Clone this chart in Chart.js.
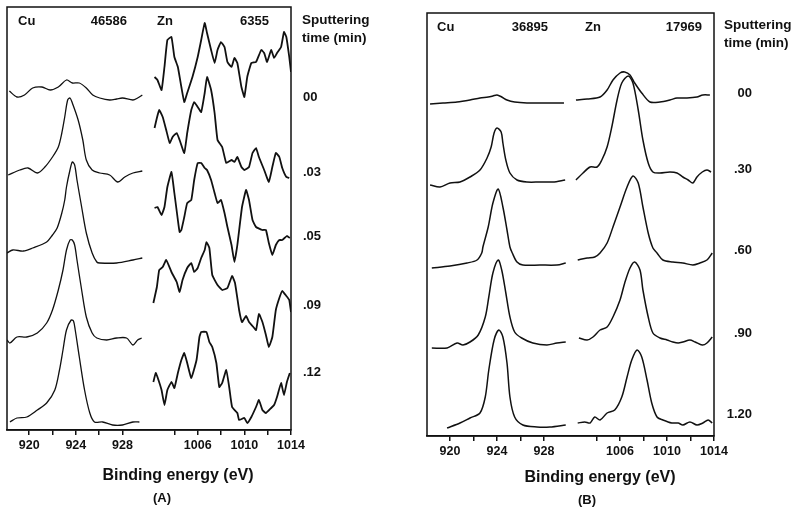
<!DOCTYPE html>
<html>
<head>
<meta charset="utf-8">
<script src="https://cdn.jsdelivr.net/npm/chart.js@4.4.0/dist/chart.umd.min.js"></script>
<style>
  html, body { margin: 0; padding: 0; background: #fff; }
  #wrap { position: relative; width: 793px; height: 508px; }
  .panel { position: absolute; top: 0; width: 396px; height: 508px; }
</style>
</head>
<body>
<div id="wrap">
  <div class="panel" style="left:0"><canvas id="chartA"></canvas></div>
  <div class="panel" style="left:397px"><canvas id="chartB"></canvas></div>
</div>
<script>
// binding energy ticks (eV), shared by both panels
const tickEnergies = [920, 922, 924, 926, 928, 1004, 1006, 1008, 1010, 1012, 1014]
const tickLabels = ['920', '', '924', '', '928', '', '1006', '', '1010', '', '1014']

// sputtering times and the level (a.u.) of each trace's baseline
const timesA = ['00', '.03', '.05', '.09', '.12']
const timeLevelsA = [333, 258, 194, 125, 58]
const timesB = ['00', '.30', '.60', '.90', '1.20']
const timeLevelsB = [343, 267, 186, 103, 22]

// full-scale counts written in each panel
const countsA = ['46586', '6355']
const countsB = ['36895', '17969']

// ---- panel A, Cu 2p3/2 : [energy eV, offset intensity a.u.]
const cuA00 = [[918.3,339],[918.95,333],[919.6,335],[920.3,342],[921.1,343],[921.8,340],[922.5,343],[923.2,350],[923.7,347],[924.3,347],[924.9,342],[925.45,335],[926.05,332],[926.9,330],[927.5,331],[928.0,332],[928.9,330],[929.3,332],[929.7,335]]
const cuA03 = [[918.2,255],[919.2,260],[919.9,262],[920.7,257],[921.35,263],[922.0,273],[922.5,283],[922.8,297],[923.05,313],[923.3,330],[923.5,332],[923.7,327],[924.2,310],[924.6,290],[924.9,270],[925.4,260],[926.05,257],[926.9,255],[927.6,248],[928.2,253],[928.9,257],[929.7,259]]
const cuA05 = [[918.1,177],[918.6,180],[919.5,179],[920.3,182],[921.5,188],[922.0,195],[922.4,202],[922.8,217],[923.05,230],[923.2,243],[923.5,260],[923.7,268],[923.9,265],[924.1,250],[924.5,223],[924.9,197],[925.4,177],[925.8,168],[926.05,167],[927.5,167],[928.9,170],[929.7,172]]
const cuA09 = [[918.1,90],[918.35,87],[918.95,93],[919.8,93],[920.7,97],[921.5,107],[922.0,120],[922.5,140],[922.9,160],[923.2,180],[923.5,190],[923.7,190],[923.9,185],[924.1,170],[924.5,140],[924.9,113],[925.4,97],[925.8,92],[926.65,90],[927.5,92],[928.35,92],[928.9,85],[929.3,90],[929.65,92]]
const cuA12 = [[918.35,8],[918.95,12],[919.8,13],[920.7,20],[921.5,27],[922.2,40],[922.6,60],[922.9,80],[923.2,100],[923.6,110],[923.8,109],[923.95,100],[924.3,73],[924.75,40],[925.2,17],[925.6,8],[926.3,8],[927.15,5],[928.0,5],[928.9,8],[929.45,8]]

// ---- panel A, Zn 2p3/2
const znA00 = [[1002.3,353],[1002.55,350],[1002.9,340],[1003.15,363],[1003.4,390],[1003.75,393],[1004.0,373],[1004.3,363],[1004.6,343],[1004.85,328],[1005.1,337],[1005.55,353],[1006.0,373],[1006.3,390],[1006.6,407],[1006.8,397],[1007.15,380],[1007.45,367],[1007.7,380],[1008.0,388],[1008.3,383],[1008.55,368],[1008.9,363],[1009.15,372],[1009.4,367],[1009.75,343],[1010.0,333],[1010.25,353],[1010.6,367],[1011.0,368],[1011.45,380],[1011.7,377],[1011.95,368],[1012.3,380],[1012.55,372],[1012.8,377],[1013.15,383],[1013.4,398],[1013.6,393],[1013.85,373],[1014.0,358]]
const znA03 = [[1002.3,302],[1002.5,312],[1002.7,320],[1003.0,313],[1003.3,300],[1003.6,287],[1003.85,293],[1004.2,297],[1004.45,290],[1004.85,277],[1005.1,297],[1005.45,320],[1005.7,328],[1006.0,323],[1006.3,318],[1006.6,337],[1006.8,353],[1007.15,340],[1007.45,317],[1007.7,290],[1008.1,283],[1008.45,267],[1008.9,270],[1009.15,268],[1009.4,273],[1009.75,263],[1010.0,260],[1010.4,263],[1010.7,277],[1011.0,282],[1011.25,273],[1011.7,260],[1012.1,248],[1012.4,263],[1012.7,277],[1013.0,273],[1013.25,262],[1013.6,253],[1013.85,252]]
const znA05 = [[1002.3,222],[1002.55,223],[1002.9,215],[1003.15,223],[1003.4,243],[1003.75,258],[1004.0,237],[1004.3,210],[1004.45,198],[1004.6,200],[1004.85,213],[1005.1,227],[1005.45,230],[1005.7,250],[1006.0,267],[1006.3,267],[1006.6,262],[1006.8,260],[1007.15,250],[1007.45,237],[1007.7,227],[1008.0,230],[1008.3,217],[1008.55,203],[1008.9,185],[1009.15,168],[1009.4,185],[1009.8,223],[1010.15,240],[1010.4,230],[1010.7,210],[1011.0,203],[1011.55,200],[1011.85,200],[1012.1,187],[1012.4,175],[1012.7,185],[1013.0,190],[1013.25,190],[1013.65,194],[1013.9,192]]
const znA09 = [[1002.2,127],[1002.5,143],[1002.7,160],[1003.0,163],[1003.3,170],[1003.75,158],[1004.2,148],[1004.45,138],[1004.7,150],[1005.1,162],[1005.45,167],[1005.7,158],[1006.0,162],[1006.3,172],[1006.6,180],[1006.75,188],[1007.0,182],[1007.25,155],[1007.7,145],[1008.1,140],[1008.55,142],[1008.95,154],[1009.2,147],[1009.55,120],[1009.8,108],[1010.15,114],[1010.4,108],[1010.7,104],[1011.0,100],[1011.25,116],[1011.55,108],[1011.85,95],[1012.1,83],[1012.4,93],[1012.7,120],[1013.0,132],[1013.25,139],[1013.6,134],[1013.85,130],[1014.0,118]]
const znA12 = [[1002.2,48],[1002.4,57],[1002.55,53],[1002.9,40],[1003.15,25],[1003.4,40],[1003.75,48],[1004.0,42],[1004.3,57],[1004.6,70],[1004.85,77],[1005.1,67],[1005.45,52],[1005.9,70],[1006.15,93],[1006.3,98],[1006.75,98],[1007.0,88],[1007.25,83],[1007.6,67],[1007.85,43],[1008.1,47],[1008.45,60],[1008.7,43],[1008.95,23],[1009.4,17],[1009.55,10],[1010.0,12],[1010.25,7],[1010.6,13],[1011.0,23],[1011.25,30],[1011.55,20],[1011.85,17],[1012.3,22],[1012.55,25],[1012.8,33],[1013.15,47],[1013.4,35],[1013.65,48],[1013.9,57]]

// ---- panel B, Cu 2p3/2
const cuB00 = [[918.3,332],[919.4,333],[920.6,334],[921.7,336],[922.55,338],[923.25,339],[923.65,340],[924.0,341],[924.4,339],[924.85,336],[925.5,334],[926.55,333],[927.65,333],[928.75,333],[929.7,333]]
const cuB30 = [[918.3,251],[919.15,249],[920.0,253],[920.85,254],[921.7,259],[922.55,266],[923.15,278],[923.5,289],[923.75,303],[924.0,308],[924.35,304],[924.5,293],[924.75,276],[925.1,263],[925.7,256],[926.55,254],[927.65,254],[928.75,254],[929.8,256]]
const cuB60 = [[918.45,168],[920.0,170],[921.45,173],[922.3,176],[922.7,183],[922.8,189],[923.25,209],[923.65,233],[924.1,247],[924.5,229],[924.85,206],[925.1,189],[925.3,183],[925.7,174],[926.2,171],[927.65,171],[929.1,171],[929.85,173]]
const cuB90 = [[918.45,88],[919.75,88],[920.6,93],[921.1,91],[921.7,94],[922.4,101],[923.0,119],[923.3,139],[923.65,163],[924.1,176],[924.4,166],[924.75,143],[925.1,119],[925.5,104],[926.1,98],[927.05,93],[928.25,91],[929.1,93],[929.85,94]]
const cuB120 = [[919.75,8],[920.85,13],[921.7,18],[922.55,23],[923.0,39],[923.3,66],[923.75,96],[924.15,106],[924.5,99],[924.85,73],[925.1,39],[925.5,19],[926.2,11],[927.4,9],[928.5,9],[929.85,11]]

// ---- panel B, Zn 2p3/2
const znB00 = [[1002.25,336],[1003.2,337],[1004.3,339],[1004.9,346],[1005.4,356],[1006.0,363],[1006.4,364],[1006.85,361],[1007.25,353],[1007.85,343],[1008.55,334],[1009.4,334],[1010.25,336],[1010.85,338],[1011.7,338],[1012.55,339],[1013.05,341],[1013.65,341]]
const znB30 = [[1002.25,256],[1002.85,263],[1003.45,269],[1004.05,269],[1004.45,276],[1004.9,289],[1005.3,309],[1005.75,336],[1006.15,353],[1006.7,360],[1007.1,353],[1007.55,326],[1007.95,296],[1008.4,273],[1008.8,264],[1009.4,263],[1010.25,264],[1010.85,263],[1011.35,259],[1011.8,256],[1012.2,253],[1012.55,259],[1013.0,264],[1013.4,266],[1013.75,264]]
const znB60 = [[1002.4,176],[1003.2,178],[1003.85,179],[1004.3,183],[1004.9,193],[1005.4,209],[1006.0,229],[1006.6,249],[1007.1,260],[1007.55,253],[1007.95,229],[1008.4,203],[1008.8,188],[1009.15,183],[1009.65,176],[1010.5,174],[1011.35,173],[1012.2,171],[1012.8,173],[1013.4,176],[1013.85,183]]
const znB90 = [[1002.5,98],[1003.2,96],[1003.7,99],[1004.3,106],[1004.9,109],[1005.4,119],[1006.0,136],[1006.4,153],[1006.85,168],[1007.25,174],[1007.7,166],[1007.95,146],[1008.4,119],[1008.8,103],[1009.4,98],[1010.0,96],[1010.5,94],[1010.95,93],[1011.35,94],[1011.95,96],[1012.4,94],[1013.0,91],[1013.4,93],[1013.85,99]]
const znB120 = [[1002.4,13],[1003.0,14],[1003.45,13],[1003.85,19],[1004.3,16],[1004.9,23],[1005.55,26],[1006.15,39],[1006.6,59],[1007.0,76],[1007.45,86],[1007.85,79],[1008.3,56],[1008.7,33],[1009.15,19],[1009.65,16],[1010.4,13],[1010.95,13],[1011.35,11],[1011.95,14],[1012.55,11],[1013.05,13],[1013.5,16],[1013.85,13]]

Chart.defaults.font.family = '"Liberation Sans", Arial, sans-serif'
Chart.defaults.color = '#000'

const ink = '#111'

const traces = (list, base, width, tension) => {
    return list.map(pts => ({
        data: pts.map(([e, i]) => ({x: e - base, y: i})),
        borderColor: ink,
        borderWidth: width,
        pointRadius: 0,
        tension: tension,
        fill: false
    }))
}

// frame, element labels, counts and the captions under the axis
const panelText = {
    id: 'panelText',
    afterDraw(chart, args, o) {
        const {ctx, chartArea: a} = chart
        ctx.save()
        ctx.strokeStyle = ink
        ctx.lineWidth = 1.5
        ctx.strokeRect(a.left, a.top, a.right - a.left, a.bottom - a.top)

        ctx.fillStyle = ink
        ctx.textBaseline = 'middle'
        ctx.font = 'bold 13px "Liberation Sans", Arial, sans-serif'
        const ty = a.top + 14
        ctx.textAlign = 'left'
        ctx.fillText('Cu', a.left + o.cuDx, ty)
        ctx.fillText('Zn', a.left + o.znDx, ty)
        ctx.textAlign = 'right'
        ctx.fillText(o.counts[0], a.left + o.cuCountDx, ty)
        ctx.fillText(o.counts[1], a.left + o.znCountDx, ty)

        ctx.textAlign = 'left'
        ctx.font = 'bold 13.5px "Liberation Sans", Arial, sans-serif'
        ctx.fillText('Sputtering', a.right + o.sputDx, a.top + o.sputDy)
        ctx.fillText('time (min)', a.right + o.sputDx, a.top + o.sputDy + 18)

        ctx.textAlign = 'center'
        ctx.font = 'bold 16px "Liberation Sans", Arial, sans-serif'
        ctx.fillText('Binding energy (eV)', o.titleX, o.titleY)
        ctx.font = 'bold 13px "Liberation Sans", Arial, sans-serif'
        ctx.fillText(o.letter, o.letterX, o.letterY)
        ctx.restore()
    }
}

const makePanel = (id, p) => {
    const toU = e => e < 960 ? e - p.cuBase : e - p.znBase
    new Chart(document.getElementById(id), {
        type: 'line',
        data: {
            datasets: [
                ...traces(p.cu, p.cuBase, p.cuWidth, 0.3),
                ...traces(p.zn, p.znBase, p.znWidth, p.znTension)
            ]
        },
        options: {
            responsive: true,
            maintainAspectRatio: false,
            animation: false,
            events: [],
            layout: {padding: {left: p.padLeft, top: p.padTop, right: p.padRight, bottom: 0}},
            plugins: {
                legend: {display: false},
                tooltip: {enabled: false},
                panelText: p.text
            },
            scales: {
                x: {
                    type: 'linear',
                    min: 0,
                    max: 1014 - p.znBase,
                    afterBuildTicks: s => { s.ticks = tickEnergies.map(e => ({value: toU(e)})) },
                    afterFit: s => { s.height = p.axisH },
                    grid: {display: true, drawOnChartArea: false, drawTicks: true, tickLength: 5, color: ink, lineWidth: 1.5},
                    border: {display: true, color: ink, width: 1.5},
                    ticks: {
                        autoSkip: false,
                        maxRotation: 0,
                        padding: 3,
                        color: ink,
                        font: {size: 12.5, weight: 'bold'},
                        callback: (v, i) => tickLabels[i]
                    }
                },
                y: {
                    position: 'right',
                    min: 0,
                    max: p.yMax,
                    afterBuildTicks: s => { s.ticks = p.levels.slice().sort((a, b) => a - b).map(v => ({value: v})) },
                    afterFit: s => {
                        // keep the frame where the figure has it: no label overhang padding
                        s.width = p.rightW
                        s.paddingTop = 0
                        s.paddingBottom = 0
                    },
                    grid: {display: false, drawTicks: false},
                    border: {display: false},
                    ticks: {
                        autoSkip: false,
                        padding: p.timePad,
                        crossAlign: p.timeAlign,
                        color: ink,
                        font: {size: 13, weight: 'bold'},
                        callback: v => p.times[p.levels.indexOf(v)]
                    }
                }
            }
        },
        plugins: [panelText]
    })
}

document.addEventListener('DOMContentLoaded', () => {
    makePanel('chartA', {
        cu: [cuA00, cuA03, cuA05, cuA09, cuA12],
        zn: [znA00, znA03, znA05, znA09, znA12],
        cuBase: 918.1, znBase: 989.65,
        cuWidth: 1.3, znWidth: 1.8, znTension: 0.12,
        times: timesA, levels: timeLevelsA,
        yMax: 423, padLeft: 7, padTop: 7, padRight: 0, axisH: 78, rightW: 105,
        timePad: 12, timeAlign: 'near',
        text: {
            counts: countsA, cuDx: 11, cuCountDx: 120, znDx: 150, znCountDx: 262,
            sputDx: 11, sputDy: 13,
            titleX: 178, titleY: 476, letter: '(A)', letterX: 162, letterY: 498
        }
    })
    makePanel('chartB', {
        cu: [cuB00, cuB30, cuB60, cuB90, cuB120],
        zn: [znB00, znB30, znB60, znB90, znB120],
        cuBase: 918.04, znBase: 989.57,
        cuWidth: 1.5, znWidth: 1.5, znTension: 0.3,
        times: timesB, levels: timeLevelsB,
        yMax: 423, padLeft: 30, padTop: 13, padRight: 41, axisH: 72, rightW: 38,
        timePad: 12, timeAlign: 'far',
        text: {
            counts: countsB, cuDx: 10, cuCountDx: 121, znDx: 158, znCountDx: 275,
            sputDx: 10, sputDy: 12,
            titleX: 203, titleY: 478, letter: '(B)', letterX: 190, letterY: 500
        }
    })
})
</script>
</body>
</html>
